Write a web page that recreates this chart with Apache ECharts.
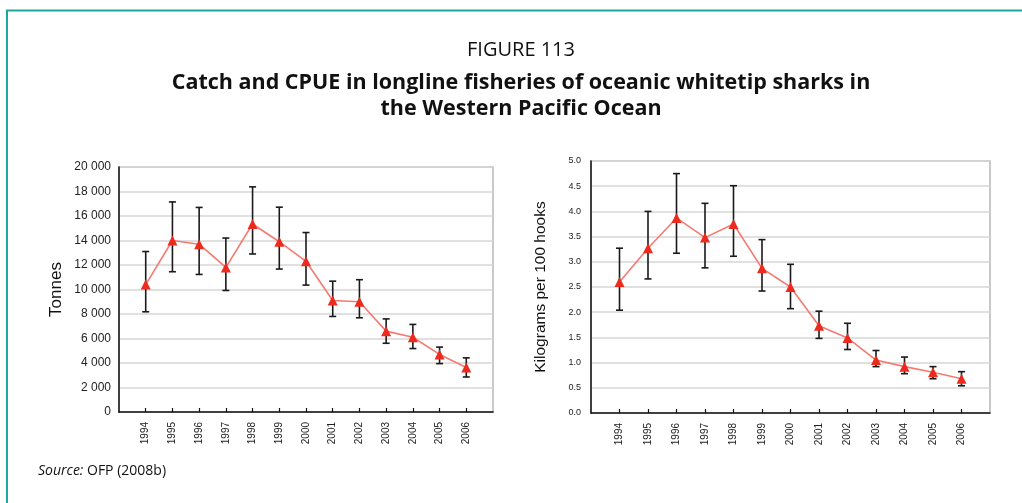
<!DOCTYPE html>
<html>
<head>
<meta charset="utf-8">
<script src="https://cdn.jsdelivr.net/npm/echarts@6/dist/echarts.min.js"></script>
<style>
  html, body { margin: 0; padding: 0; background: #fff; }
  #chart { width: 1022px; height: 503px; }
</style>
</head>
<body>
<div id="chart"></div>
<script>
// Years on the horizontal axis of both panels
const years = [1994, 1995, 1996, 1997, 1998, 1999, 2000, 2001, 2002, 2003, 2004, 2005, 2006];

// Left panel: catch (tonnes) with upper / lower bounds
const catchValues = [10400, 14000, 13700, 11800, 15350, 13900, 12300, 9100, 9000, 6600, 6100, 4700, 3630];
const catchUpper  = [13100, 17150, 16700, 14200, 18380, 16720, 14650, 10680, 10800, 7600, 7150, 5300, 4420];
const catchLower  = [8180, 11450, 11230, 9920, 12900, 11670, 10360, 7800, 7690, 5610, 5180, 3950, 2860];

// Right panel: CPUE (kg per 100 hooks) with upper / lower bounds
const cpueValues = [2.60, 3.27, 3.87, 3.48, 3.75, 2.87, 2.50, 1.73, 1.49, 1.05, 0.92, 0.81, 0.68];
const cpueUpper  = [3.27, 4.00, 4.75, 4.16, 4.51, 3.44, 2.95, 2.02, 1.78, 1.24, 1.11, 0.92, 0.82];
const cpueLower  = [2.04, 2.66, 3.17, 2.88, 3.11, 2.42, 2.07, 1.48, 1.26, 0.92, 0.78, 0.68, 0.54];

// Tick labels
const catchTicks = [0, 2000, 4000, 6000, 8000, 10000, 12000, 14000, 16000, 18000, 20000];
const cpueTicks = [0, 0.5, 1.0, 1.5, 2.0, 2.5, 3.0, 3.5, 4.0, 4.5, 5.0];

const lineColor = '#f47a72';
const markerColor = '#ec2a1e';

function pairs(xs, ys) { return xs.map((x, i) => [x, ys[i]]); }
function errData(xs, lo, hi) { return xs.map((x, i) => [x, lo[i], hi[i]]); }

function errorBarRender(params, api) {
  const x = api.value(0);
  const lo = api.coord([x, api.value(1)]);
  const hi = api.coord([x, api.value(2)]);
  const cap = 3.5;
  const style = { stroke: '#1a1a1a', lineWidth: 1.6 };
  return {
    type: 'group',
    children: [
      { type: 'line', shape: { x1: hi[0], y1: hi[1], x2: lo[0], y2: lo[1] }, style },
      { type: 'line', shape: { x1: hi[0] - cap, y1: hi[1], x2: hi[0] + cap, y2: hi[1] }, style },
      { type: 'line', shape: { x1: lo[0] - cap, y1: lo[1], x2: lo[0] + cap, y2: lo[1] }, style }
    ]
  };
}

function xAxisFor(gridIndex) {
  return {
    type: 'value', gridIndex,
    min: years[0] - 1, max: years[years.length - 1] + 1, interval: 1,
    axisLine: { show: true, lineStyle: { color: '#111', width: 1.5 } },
    axisTick: { show: true, inside: true, length: 4, customValues: years, lineStyle: { color: '#111', width: 1.2 } },
    axisLabel: {
      customValues: years, rotate: 90, margin: 10,
      fontFamily: 'Liberation Sans, Arial, sans-serif', fontSize: 10, color: '#222',
      formatter: v => String(v)
    },
    splitLine: { show: false }
  };
}

const chart = echarts.init(document.getElementById('chart'), null, { renderer: 'canvas' });

chart.setOption({
  backgroundColor: '#fff',
  animation: false,
  title: [
    { text: 'FIGURE 113', left: 516, textAlign: 'center', top: 32,
      textStyle: { fontFamily: 'Open Sans, sans-serif', fontWeight: 'normal', fontSize: 20, lineHeight: 26, color: '#111' } },
    { text: 'Catch and CPUE in longline fisheries of oceanic whitetip sharks in\nthe Western Pacific Ocean',
      left: 516, textAlign: 'center', top: 65,
      textStyle: { fontFamily: 'Open Sans, sans-serif', fontWeight: 'bold', fontSize: 21.5, lineHeight: 26, color: '#111' } }
  ],
  graphic: [
    { type: 'line', shape: { x1: 6, y1: 10.5, x2: 1022, y2: 10.5 }, style: { stroke: '#1ea89c', lineWidth: 2 } },
    { type: 'line', shape: { x1: 7, y1: 10, x2: 7, y2: 503 }, style: { stroke: '#1ea89c', lineWidth: 2 } },
    { type: 'text', left: 38, top: 464,
      style: { text: '{i|Source:} OFP (2008b)', rich: { i: { fontStyle: 'italic', fontSize: 14, fontFamily: 'Open Sans, sans-serif', fill: '#111' } },
               fontSize: 14, fontFamily: 'Open Sans, sans-serif', fill: '#111' } }
  ],
  grid: [
    { left: 119, top: 167, width: 374, height: 245, show: true, borderColor: '#b8b8b8', borderWidth: 1.5 },
    { left: 591, top: 161, width: 399, height: 252, show: true, borderColor: '#b8b8b8', borderWidth: 1.5 }
  ],
  xAxis: [xAxisFor(0), xAxisFor(1)],
  yAxis: [
    {
      type: 'value', gridIndex: 0, min: catchTicks[0], max: catchTicks[catchTicks.length - 1], interval: 2000,
      name: 'Tonnes', nameLocation: 'middle', nameGap: 54,
      nameTextStyle: { fontFamily: 'Liberation Sans, Arial, sans-serif', fontSize: 17, color: '#111' },
      axisLine: { show: true, lineStyle: { color: '#111', width: 1.5 } },
      axisTick: { show: false },
      axisLabel: { margin: 8, fontFamily: 'Liberation Sans, Arial, sans-serif', fontSize: 12, color: '#222',
        formatter: v => v === 0 ? '0' : String(v).replace(/\B(?=(\d{3})+(?!\d))/g, ' ') },
      splitLine: { show: true, lineStyle: { color: '#d6d6d6', width: 1.5 } }
    },
    {
      type: 'value', gridIndex: 1, min: cpueTicks[0], max: cpueTicks[cpueTicks.length - 1], interval: 0.5,
      name: 'Kilograms per 100 hooks', nameLocation: 'middle', nameGap: 42,
      nameTextStyle: { fontFamily: 'Liberation Sans, Arial, sans-serif', fontSize: 15.5, color: '#111' },
      axisLine: { show: true, lineStyle: { color: '#111', width: 1.5 } },
      axisTick: { show: false },
      axisLabel: { margin: 10, fontFamily: 'Liberation Sans, Arial, sans-serif', fontSize: 9, color: '#222',
        formatter: v => v.toFixed(1) },
      splitLine: { show: true, lineStyle: { color: '#d6d6d6', width: 1.5 } }
    }
  ],
  series: [
    { type: 'custom', xAxisIndex: 0, yAxisIndex: 0, renderItem: errorBarRender,
      data: errData(years, catchLower, catchUpper), z: 2, silent: true },
    { type: 'line', xAxisIndex: 0, yAxisIndex: 0, data: pairs(years, catchValues),
      symbol: 'triangle', symbolSize: 10, lineStyle: { color: lineColor, width: 1.6 },
      itemStyle: { color: markerColor }, z: 3 },
    { type: 'custom', xAxisIndex: 1, yAxisIndex: 1, renderItem: errorBarRender,
      data: errData(years, cpueLower, cpueUpper), z: 2, silent: true },
    { type: 'line', xAxisIndex: 1, yAxisIndex: 1, data: pairs(years, cpueValues),
      symbol: 'triangle', symbolSize: 10, lineStyle: { color: lineColor, width: 1.6 },
      itemStyle: { color: markerColor }, z: 3 }
  ]
});
</script>
</body>
</html>
